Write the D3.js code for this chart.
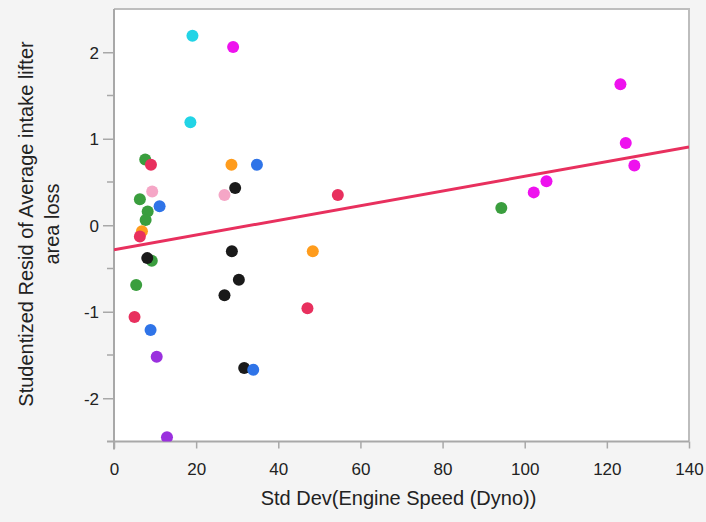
<!DOCTYPE html>
<html>
<head>
<meta charset="utf-8">
<script src="https://cdn.jsdelivr.net/npm/d3@7"></script>
<style>
  html, body { margin: 0; padding: 0; background: #f4f4f4; }
  svg { display: block; }
  text { font-family: "Liberation Sans", Arial, sans-serif; fill: #222; }
</style>
</head>
<body>
<svg id="chart" width="706" height="522"></svg>
<script>
// Group keys, in drawing order (later groups sit on top)
const groups = ["cyan", "magenta", "pink", "green", "orange", "black", "blue", "purple", "red"];
const groupColors = ["#22d4e6", "#ee12ee", "#f5a6c6", "#3a9e3e", "#ff9c1c", "#1a1a1a", "#2f74e8", "#9a30de", "#e8305e"];

// Std Dev(Engine Speed) per group
const xValues = {
  cyan:    [19.1, 18.6],
  magenta: [29.0, 102.2, 105.3, 123.3, 124.6, 126.7],
  pink:    [9.3, 26.9],
  green:   [7.6, 6.3, 8.2, 7.7, 9.2, 5.4, 94.3],
  orange:  [28.6, 6.8, 48.4],
  black:   [29.5, 8.1, 28.7, 30.4, 26.9, 31.7],
  blue:    [34.8, 11.1, 8.9, 33.9],
  purple:  [10.4, 12.9],
  red:     [9.0, 6.3, 5.0, 47.1, 54.5]
};
// Studentized residuals per group
const yValues = {
  cyan:    [2.19, 1.19],
  magenta: [2.06, 0.38, 0.51, 1.63, 0.95, 0.69],
  pink:    [0.39, 0.35],
  green:   [0.76, 0.30, 0.16, 0.06, -0.41, -0.69, 0.20],
  orange:  [0.70, -0.07, -0.30],
  black:   [0.43, -0.38, -0.30, -0.63, -0.81, -1.65],
  blue:    [0.70, 0.22, -1.21, -1.67],
  purple:  [-1.52, -2.45],
  red:     [0.70, -0.13, -1.06, -0.96, 0.35]
};

// Fitted line
const fitIntercept = -0.283;
const fitSlope = 0.00849;

const xTicks = [0, 20, 40, 60, 80, 100, 120, 140];
const yTicks = [-2, -1, 0, 1, 2];
const yMinorTicks = [-1.5, -0.5, 0.5, 1.5];

const xTitle = "Std Dev(Engine Speed (Dyno))";
const yTitleLines = ["Studentized Resid of Average intake lifter", "area loss"];

const svg = d3.select("#chart");
const plot = { left: 114, right: 689, top: 9, bottom: 441.5 };

const x = d3.scaleLinear().domain([0, 140]).range([plot.left, plot.right]);
const y = d3.scaleLinear().domain([-2.5, 2.5]).range([plot.bottom, plot.top]);

// labels use a plain hyphen for negatives
const plainFormat = d => String(d);

// plot background and frame
svg.append("rect")
  .attr("x", plot.left).attr("y", plot.top)
  .attr("width", plot.right - plot.left).attr("height", plot.bottom - plot.top)
  .attr("fill", "#ffffff");
svg.append("path")
  .attr("d", `M${plot.left},${plot.top}H${plot.right}V${plot.bottom}`)
  .attr("fill", "none").attr("stroke", "#bdbdbd").attr("stroke-width", 2);

// x axis
const xAxis = svg.append("g").attr("transform", `translate(0,${plot.bottom})`)
  .call(d3.axisBottom(x).tickValues(xTicks).tickFormat(plainFormat).tickSize(7).tickSizeOuter(0));
xAxis.select(".domain").attr("stroke", "#a8a8a8").attr("stroke-width", 2)
  .attr("d", `M${plot.left - 7},0H${plot.right}`);
xAxis.selectAll(".tick line").attr("stroke", "#a8a8a8").attr("stroke-width", 1.5);
xAxis.selectAll(".tick text").attr("dy", null).attr("y", 33)
  .style("font-size", "17px").style("font-family", "Liberation Sans, Arial, sans-serif").attr("fill", "#222");

// y axis
const yAxis = svg.append("g").attr("transform", `translate(${plot.left},0)`)
  .call(d3.axisLeft(y).tickValues(yTicks).tickFormat(plainFormat).tickSize(11).tickSizeOuter(0));
yAxis.select(".domain").attr("stroke", "#a8a8a8").attr("stroke-width", 2)
  .attr("d", `M0,${plot.top}V${plot.bottom + 8}`);
yAxis.selectAll(".tick line").attr("stroke", "#a8a8a8").attr("stroke-width", 1.5);
yAxis.selectAll(".tick text").attr("x", -15).attr("dy", "0.36em")
  .style("font-size", "17px").style("font-family", "Liberation Sans, Arial, sans-serif").attr("fill", "#222");
yAxis.selectAll(".minor").data(yMinorTicks).enter().append("line")
  .attr("class", "minor")
  .attr("x1", -7).attr("x2", 0)
  .attr("y1", d => y(d)).attr("y2", d => y(d))
  .attr("stroke", "#a8a8a8").attr("stroke-width", 1.5);

// axis titles
svg.append("text")
  .attr("x", (plot.left + plot.right) / 2 - 3).attr("y", 505)
  .attr("text-anchor", "middle").style("font-size", "20px")
  .text(xTitle);

const yTitle = svg.append("text")
  .attr("transform", `translate(33,224) rotate(-90)`)
  .attr("text-anchor", "middle").style("font-size", "20px");
yTitle.selectAll("tspan").data(yTitleLines).enter().append("tspan")
  .attr("x", 0).attr("dy", (d, i) => i === 0 ? 0 : 26)
  .text(d => d);

// clipped mark layer
svg.append("clipPath").attr("id", "plotClip").append("rect")
  .attr("x", plot.left).attr("y", plot.top)
  .attr("width", plot.right - plot.left).attr("height", plot.bottom - plot.top);
const marks = svg.append("g").attr("clip-path", "url(#plotClip)");

// fit line
marks.append("line")
  .attr("x1", x(0)).attr("y1", y(fitIntercept))
  .attr("x2", x(140)).attr("y2", y(fitIntercept + fitSlope * 140))
  .attr("stroke", "#e8305e").attr("stroke-width", 3);

// points
groups.forEach((g, gi) => {
  const pts = xValues[g].map((v, i) => ({ x: v, y: yValues[g][i] }));
  marks.append("g").selectAll("circle").data(pts).enter().append("circle")
    .attr("cx", d => x(d.x)).attr("cy", d => y(d.y)).attr("r", 6)
    .attr("fill", groupColors[gi]);
});
</script>
</body>
</html>
